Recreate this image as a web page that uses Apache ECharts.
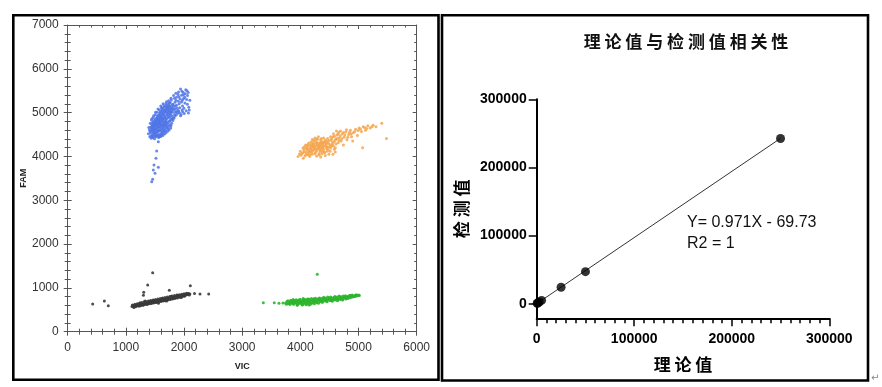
<!DOCTYPE html>
<html>
<head>
<meta charset="utf-8">
<script src="https://cdn.jsdelivr.net/npm/echarts@6/dist/echarts.min.js"></script>
<style>
html,body{margin:0;padding:0;background:#fff;}
#chart{width:882px;height:387px;}
</style>
</head>
<body>
<div id="chart"></div>
<script>
// ---------- Left panel: droplet scatter (VIC vs FAM) ----------
const leftXTicks = [0, 1000, 2000, 3000, 4000, 5000, 6000];
const leftYTicks = [0, 1000, 2000, 3000, 4000, 5000, 6000, 7000];

const blueDroplets = [
[1412,4452],[1437,4418],[1466,4431],[1493,4402],[1521,4447],[1455,4489],[1478,4466],[1508,4493],[1539,4478],[1562,4431],
[1423,4538],[1447,4571],[1469,4527],[1497,4552],[1526,4534],[1553,4569],[1584,4511],[1404,4603],[1439,4642],[1462,4608],
[1488,4631],[1515,4596],[1541,4622],[1571,4604],[1598,4585],[1626,4561],[1451,4697],[1476,4676],[1502,4709],[1533,4681],
[1559,4667],[1588,4693],[1613,4648],[1641,4630],[1468,4761],[1495,4744],[1524,4772],[1548,4738],[1577,4755],[1603,4727],
[1632,4712],[1661,4698],[1489,4821],[1517,4806],[1546,4838],[1572,4812],[1596,4797],[1624,4826],[1652,4781],[1683,4760],
[1531,4879],[1559,4901],[1587,4866],[1615,4888],[1642,4853],[1668,4872],[1697,4839],[1563,4948],[1591,4967],[1619,4935],
[1648,4959],[1676,4924],[1702,4946],[1733,4905],[1598,5012],[1627,5031],[1655,4998],[1684,5023],[1711,4987],[1740,5008],
[1766,4972],[1641,5078],[1669,5062],[1698,5091],[1725,5054],[1752,5077],[1781,5039],[1685,5141],[1714,5127],[1742,5158],
[1770,5116],[1799,5102],
[1433,4472],[1459,4455],[1487,4519],[1512,4468],[1549,4497],[1418,4583],[1452,4598],[1483,4575],[1507,4621],[1536,4563],
[1565,4585],[1427,4667],[1461,4651],[1494,4689],[1521,4647],[1552,4703],[1579,4659],[1606,4612],[1443,4735],[1473,4714],
[1509,4752],[1538,4736],[1566,4781],[1594,4742],[1619,4694],[1647,4669],[1462,4791],[1501,4779],[1531,4818],[1561,4764],
[1589,4829],[1617,4786],[1644,4741],[1673,4726],[1507,4852],[1538,4871],[1567,4843],[1599,4894],[1626,4858],[1657,4812],
[1686,4797],[1541,4925],[1576,4939],[1606,4912],[1633,4973],[1661,4906],[1689,4867],[1717,4883],[1582,4995],[1614,5048],
[1641,4981],[1668,5045],[1697,5007],[1727,4955],[1755,4941],[1626,5105],[1659,5121],[1687,5057],[1716,5109],[1745,5033],
[1773,5011],[1703,5168],[1731,5102],[1761,5149],[1790,5075],[1816,5142],[1734,5196],[1763,5232],[1797,5181],
[1602,4455],[1635,4478],[1664,4512],[1690,4540],[1718,4575],[1745,4610],[1771,4648],[1655,4610],[1682,4595],[1709,4651],
[1736,4688],[1762,4722],[1789,4760],[1700,4690],[1728,4768],[1755,4805],[1783,4842],[1810,4880],[1837,4915],[1775,4700],
[1808,4820],[1838,4958],[1866,4945],[1894,5050],[1920,5000],[1950,4960],[1975,5020],[1612,4530],[1585,4470],[1640,4520],
[1670,4580],[1725,4640],[1800,4860],[1860,5020],[1440,4830],[1470,4890],[1505,4950],[1535,5010],[1575,5060],[1610,5110],
[1655,5160],[1690,5210],[1735,5270],[1775,5330],[1820,5390],[1860,5440],[1905,5470],[1985,5460],[2050,5500],[1970,5280],
[2015,5220],[2090,5060],[2075,4990],[1940,4930],
[1810,5190],[1845,5235],[1872,5171],[1903,5262],[1930,5318],[1955,5244],[1988,5401],[2012,5352],[2045,5297],[2071,5461],
[1964,5488],[1897,5412],[1836,5330],[1782,5290],[1748,5220],[1822,5068],[1856,5012],[1891,4987],[1925,5110],[1967,5058],
[2004,4981],[2038,5044],[2082,5125],[2100,5280],[1940,5540],[2030,5520],[1880,5100],[1790,4930],[1826,4874],[1752,4821],
[1715,4730],[1688,4660],[1650,4572],[1612,4496],[1576,4448],
[1848,5154],[1862,5282],[1917,5205],[1975,5150],[1992,5323],[2058,5190],[1912,5365],[1870,5352],[1957,5395],[2021,5432],
[1845,5090],[1908,5040],[1998,5100],[2060,5390],[1805,5010],[1760,4890],[1700,4780],[1660,4740],
[1388,4520],[1395,4660],[1420,4760],[1448,4860],[1478,4930],[1510,5010],[1552,5080],[1600,5150],[1640,5200],[1700,5250],
[1558,4337],[1530,4125],[1518,3957],[1484,3805],[1558,3752],[1472,3690],[1501,3615],[1461,3478],[1444,3424]
];

const orangeDroplets = [
[4010,4030],[4045,4085],[4080,4010],[4060,4150],[4100,4090],[4130,4040],[4150,4170],[4120,4220],[4090,4260],[4170,4110],
[4200,4050],[4190,4210],[4220,4280],[4240,4150],[4260,4090],[4180,4330],[4230,4370],[4270,4230],[4290,4310],[4300,4180],
[4320,4060],[4330,4250],[4350,4380],[4360,4140],[4380,4290],[4390,4210],[4410,4100],[4420,4340],[4440,4260],[4450,4180],
[4470,4410],[4480,4300],[4500,4220],[4510,4120],[4530,4370],[4550,4270],[4560,4450],[4580,4330],[4600,4200],[4610,4400],
[4630,4490],[4650,4310],[4670,4420],[4140,4300],[4160,4000],[4210,4130],[4250,4420],[4280,4010],[4310,4450],[4340,4110],
[4370,4060],[4400,4420],[4430,4020],[4460,4120],[4490,4050],[4520,4450],[4150,4120],[4270,4170],[4320,4200],[4370,4250],
[4410,4300],[4460,4340],[4210,4250],[4290,4270],[4340,4320],[4400,4160],[4240,4190],[4190,4160],[4110,4170],[4070,4220],
[4025,4065],[4068,4112],[4095,4038],[4118,4145],[4137,4082],[4158,4245],[4176,4188],[4196,4095],[4215,4318],[4228,4212],
[4247,4063],[4262,4345],[4281,4125],[4298,4392],[4312,4232],[4327,4158],[4346,4284],[4362,4412],[4375,4189],[4387,4328],
[4402,4238],[4418,4082],[4431,4375],[4448,4303],[4463,4215],[4476,4158],[4492,4365],[4506,4272],[4522,4195],[4538,4412],
[4553,4318],[4568,4238],[4586,4460],[4597,4370],[4614,4285],[4632,4410],[4648,4515],[4665,4362],[4684,4470],[4712,4405],
[4235,4232],[4305,4288],[4365,4335],[4185,4275],[4255,4295],[4125,4262],[4095,4195],[4165,4045],[4345,4205],[4445,4225],
[4385,4105],[4535,4245],[4205,4385],[4275,4405],[4325,4035],[4585,4165],[4045,4195],[3985,4055],
[4700,4350],[4720,4510],[4750,4440],[4780,4560],[4800,4380],[4830,4500],[4860,4600],[4880,4450],[4910,4540],[4950,4620],
[4980,4480],[5010,4650],[5050,4570],[5080,4680],[5120,4600],[5160,4700],[5200,4650],[5250,4710],[5300,4680],[5400,4760],
[5480,4410],[5070,4200],[4690,4580],[4740,4260],[4620,4580],[4570,4520],[4660,4550],[4900,4350],[4600,4100],[4560,4050],
[4738,4548],[4765,4488],[4793,4612],[4815,4440],[4845,4555],[4872,4512],[4935,4570],[4995,4590],[5032,4625],[5105,4660],
[5140,4635],[5230,4680],
[4350,3990],[4050,3960],[3960,4000],[4000,4120]
];

const blackDroplets = [
[1105,575],[1118,592],[1132,570],[1146,601],[1160,588],[1175,612],[1188,596],[1203,620],[1215,603],[1229,589],
[1242,628],[1256,611],[1270,640],[1284,618],[1297,603],[1311,646],[1325,629],[1338,657],[1352,641],[1365,622],
[1379,668],[1393,650],[1406,683],[1420,661],[1434,644],[1447,692],[1461,672],[1474,655],[1488,701],[1502,683],
[1515,666],[1529,712],[1543,693],[1556,677],[1570,722],[1584,705],[1597,688],[1611,733],[1625,714],[1638,698],
[1652,745],[1666,726],[1679,709],[1693,757],[1707,738],[1720,721],[1734,770],[1748,750],[1761,733],[1775,782],
[1789,761],[1802,745],[1816,794],[1830,773],[1843,758],[1857,806],[1871,786],[1884,770],[1898,818],[1912,797],
[1925,784],[1939,829],[1953,809],[1966,797],[1980,842],[1994,822],[2008,810],[2022,853],[2036,835],[2050,865],
[2064,848],[2080,873],[2100,862],[1330,700],[1480,720],[1620,760],[1700,700],[1780,810],[1560,650],[1880,840],
[1950,780],[1420,700],[1240,650],
[1112,612],[1138,555],[1155,625],[1168,570],[1196,640],[1210,585],[1236,655],[1251,595],[1268,668],[1290,608],
[1305,676],[1318,620],[1345,688],[1359,630],[1386,698],[1400,640],[1428,712],[1441,655],[1468,722],[1482,668],
[1509,736],[1522,680],[1549,748],[1563,690],[1590,760],[1604,702],[1631,772],[1645,715],[1672,782],[1686,728],
[1713,794],[1727,740],[1754,805],[1768,752],[1795,816],[1809,766],[1836,826],[1850,778],[1877,834],[1891,792],
[1918,846],[1932,806],[1959,856],[1973,818],[2000,866],[2014,830],[2045,880],[2072,858],[2090,840],[1375,655],
[1455,680],[1535,700],[1615,725],[1695,745],[1775,768],[1855,790],[1935,815],[2015,845],
[430,632],[630,700],[698,594],[1302,830],[1307,899],[1375,1066],[1461,1347],[1747,945],[2108,1050],[2275,860],
[2424,860],[2180,870]
];

const greenDroplets = [
[3745,655],[3770,690],[3790,640],[3812,672],[3830,705],[3848,648],[3865,682],[3883,625],[3900,712],[3918,660],
[3935,693],[3952,640],[3970,725],[3988,672],[4005,705],[4022,630],[4040,688],[4058,740],[4075,655],[4092,715],
[4110,640],[4128,698],[4145,744],[4162,668],[4180,720],[4198,650],[4215,702],[4232,752],[4250,680],[4268,728],
[4285,662],[4302,712],[4320,760],[4338,690],[4355,735],[4372,672],[4390,722],[4408,766],[4425,700],[4442,745],
[4460,685],[4478,730],[4495,775],[4512,710],[4530,752],[4548,695],[4566,740],[4584,786],[4602,722],[4620,765],
[4638,708],[4656,750],[4674,795],[4692,735],[4710,778],[4728,722],[4746,762],[4764,800],[4782,748],[4800,790],
[4820,760],[4840,812],[4860,776],[4880,820],[4900,790],[4920,806],[4945,830],[4970,812],[5000,840],[5015,825],
[3880,700],[3960,690],[4060,700],[4140,700],[4240,705],[4340,715],[4440,730],[4540,740],[4050,620],[4150,610],
[3950,615],[4000,650],[4100,670],[4200,690],
[3760,628],[3785,705],[3805,650],[3822,620],[3840,718],[3858,665],[3875,735],[3892,640],[3910,678],[3928,730],
[3945,602],[3962,705],[3980,648],[3998,740],[4015,680],[4032,612],[4050,755],[4068,672],[4085,730],[4102,615],
[4120,745],[4138,660],[4155,725],[4172,625],[4190,760],[4208,672],[4225,738],[4242,640],[4260,765],[4278,690],
[4295,745],[4312,650],[4330,772],[4348,705],[4365,755],[4382,680],[4400,785],[4418,718],[4435,770],[4452,705],
[4470,790],[4488,745],[4505,722],[4522,790],[4540,712],[4558,770],[4576,730],[4594,805],[4612,745],[4630,790],
[4648,732],[4666,812],[4684,760],[4702,800],[4720,748],[4738,815],[4756,780],[4774,822],[4792,768],[4810,805],
[4830,790],[4850,830],[4870,800],[4890,838],[4910,815],[4935,805],[4960,845],[4985,828],[4030,700],[4130,720],
[4230,680],[4330,735],[4430,745],[4530,765],[3900,660],[3850,690],
[3363,662],[3552,662],[3632,648],[4291,1310],[3700,655]
];

// ---------- Right panel: theoretical vs measured ----------
const rightTitle = '理 论 值 与 检 测 值 相 关 性';
const rightTicks = [0, 100000, 200000, 300000];
const theoretical = [500, 1000, 2500, 5000, 25000, 50000, 250000];
const measured = [400, 900, 2350, 4800, 24000, 47000, 242500];
const fitSlope = 0.971;
const fitIntercept = -69.73;
const fitRange = [0, 250000];
const equationText = 'Y= 0.971X - 69.73';
const r2Text = 'R2 = 1';

const narrow = '"Liberation Sans Narrow", "Arial Narrow", Arial, sans-serif';
const arial = 'Arial, "Liberation Sans", sans-serif';
const cjk = '"Noto Sans CJK SC", sans-serif';
const plain = v => String(v);

const chart = echarts.init(document.getElementById('chart'), null, {renderer: 'canvas'});

const frameColor = '#555';
function leftAxisBase(extra) {
  return Object.assign({
    gridIndex: 0, type: 'value',
    splitLine: {show: false},
    axisLine: {show: true, onZero: false, lineStyle: {color: frameColor, width: 1}},
    axisLabel: {show: false},
    axisTick: {show: true, length: 4, lineStyle: {color: frameColor, width: 1}},
    minorTick: {show: true, splitNumber: 5, length: 3, lineStyle: {color: frameColor, width: 1}},
    minorSplitLine: {show: false}
  }, extra);
}

const pairs = theoretical.map((t, i) => [t, measured[i]]);
const fitLine = fitRange.map(x => [x, fitSlope * x + fitIntercept]);

chart.setOption({
  animation: false,
  backgroundColor: '#fff',
  grid: [
    {left: 67.7, top: 25, width: 349, height: 306.7, outerBoundsMode: 'none', containLabel: false},
    {left: 536.7, top: 99.3, width: 292.6, height: 219, outerBoundsMode: 'none', containLabel: false}
  ],
  xAxis: [
    leftAxisBase({position: 'bottom', min: leftXTicks[0], max: leftXTicks[leftXTicks.length - 1], interval: 1000,
      axisLabel: {show: true, fontSize: 12, fontFamily: narrow, color: '#333', margin: 10, formatter: plain},
      name: 'VIC', nameLocation: 'middle', nameGap: 30,
      nameTextStyle: {fontSize: 9, fontWeight: 'bold', fontFamily: narrow, color: '#222'}}),
    leftAxisBase({position: 'bottom', min: 0, max: 6000, interval: 1000,
      axisLine: {show: false, onZero: false},
      axisTick: {show: true, inside: true, length: 4, lineStyle: {color: frameColor}},
      minorTick: {show: true, splitNumber: 5, length: 3, lineStyle: {color: frameColor}}}),
    leftAxisBase({position: 'top', min: 0, max: 6000, interval: 1000,
      axisTick: {show: true, inside: true, length: 4, lineStyle: {color: frameColor}},
      minorTick: {show: true, splitNumber: 5, length: 2.5, lineStyle: {color: frameColor}}}),
    {
      gridIndex: 1, type: 'value', position: 'bottom', min: 0, max: 300000, interval: 100000,
      splitLine: {show: false},
      axisLine: {show: true, onZero: false, lineStyle: {color: '#000', width: 2}},
      axisTick: {show: true, length: 8, lineStyle: {color: '#000', width: 1.5}},
      minorTick: {show: true, splitNumber: 10, length: 5, lineStyle: {color: '#000', width: 1.5}},
      axisLabel: {fontSize: 14, fontWeight: 'bold', fontFamily: arial, color: '#000', margin: 14,
        customValues: rightTicks, formatter: plain},
      name: '理 论 值', nameLocation: 'middle', nameGap: 38,
      nameTextStyle: {fontSize: 17, fontWeight: 'bold', fontFamily: cjk, color: '#000'}
    }
  ],
  yAxis: [
    leftAxisBase({position: 'left', min: leftYTicks[0], max: leftYTicks[leftYTicks.length - 1], interval: 1000,
      axisLabel: {show: true, fontSize: 12, fontFamily: narrow, color: '#333', margin: 9, formatter: plain},
      name: 'FAM', nameLocation: 'middle', nameGap: 36,
      nameTextStyle: {fontSize: 9, fontWeight: 'bold', fontFamily: narrow, color: '#222'}}),
    leftAxisBase({position: 'left', min: 0, max: 7000, interval: 1000,
      axisLine: {show: false, onZero: false},
      axisTick: {show: true, inside: true, length: 4, lineStyle: {color: frameColor}},
      minorTick: {show: true, splitNumber: 5, length: 3, lineStyle: {color: frameColor}}}),
    leftAxisBase({position: 'right', min: 0, max: 7000, interval: 1000,
      axisTick: {show: true, inside: true, length: 4, lineStyle: {color: frameColor}},
      minorTick: {show: true, splitNumber: 5, length: 2.5, lineStyle: {color: frameColor}}}),
    {
      gridIndex: 1, type: 'value', position: 'left', min: -21500, max: 300000,
      splitLine: {show: false},
      axisLine: {show: true, onZero: false, lineStyle: {color: '#000', width: 2}},
      axisTick: {show: true, length: 8, lineStyle: {color: '#000', width: 1.5}, customValues: rightTicks},
      minorTick: {show: false},
      axisLabel: {fontSize: 14, fontWeight: 'bold', fontFamily: arial, color: '#000', margin: 10,
        customValues: rightTicks, formatter: plain},
      name: '检 测 值', nameLocation: 'middle', nameGap: 67,
      nameTextStyle: {fontSize: 17, fontWeight: 'bold', fontFamily: cjk, color: '#000'}
    }
  ],
  series: [
    {type: 'scatter', xAxisIndex: 0, yAxisIndex: 0, data: blackDroplets, symbol: 'circle', symbolSize: 3,
      itemStyle: {color: '#3a3a3a', opacity: 0.9}},
    {type: 'scatter', xAxisIndex: 0, yAxisIndex: 0, data: greenDroplets, symbol: 'circle', symbolSize: 3,
      itemStyle: {color: '#2cb52c', opacity: 0.9}},
    {type: 'scatter', xAxisIndex: 0, yAxisIndex: 0, data: blueDroplets, symbol: 'circle', symbolSize: 3,
      itemStyle: {color: '#4f74e6', opacity: 0.85}},
    {type: 'scatter', xAxisIndex: 0, yAxisIndex: 0, data: orangeDroplets, symbol: 'circle', symbolSize: 3,
      itemStyle: {color: '#f5a44c', opacity: 0.85}},
    {type: 'line', xAxisIndex: 3, yAxisIndex: 3, data: fitLine, symbol: 'none',
      lineStyle: {color: '#333', width: 1}, z: 2},
    {type: 'scatter', xAxisIndex: 3, yAxisIndex: 3, data: pairs, symbol: 'circle', symbolSize: 9,
      itemStyle: {color: '#000'}, z: 3}
  ],
  graphic: [
    {type: 'rect', shape: {x: 13.3, y: 15.3, width: 425.2, height: 364.4},
      style: {fill: 'none', stroke: '#000', lineWidth: 2.6}, silent: true},
    {type: 'rect', shape: {x: 442, y: 15.3, width: 426, height: 365.2},
      style: {fill: 'none', stroke: '#000', lineWidth: 2.6}, silent: true},
    {type: 'text', x: 686, y: 42, style: {text: rightTitle, font: 'bold 17px "Noto Sans CJK SC", sans-serif',
      fill: '#111', textAlign: 'center', textVerticalAlign: 'middle'}},
    {type: 'text', x: 687, y: 223, style: {text: equationText, font: '16px Arial, "Liberation Sans", sans-serif',
      fill: '#111', textAlign: 'left', textVerticalAlign: 'middle'}},
    {type: 'text', x: 687, y: 244, style: {text: r2Text, font: '16px Arial, "Liberation Sans", sans-serif',
      fill: '#111', textAlign: 'left', textVerticalAlign: 'middle'}},
    {type: 'text', x: 871, y: 378, style: {text: '↵', font: '10px "DejaVu Sans", sans-serif',
      fill: '#888', textAlign: 'left', textVerticalAlign: 'middle'}}
  ]
});
</script>
</body>
</html>
